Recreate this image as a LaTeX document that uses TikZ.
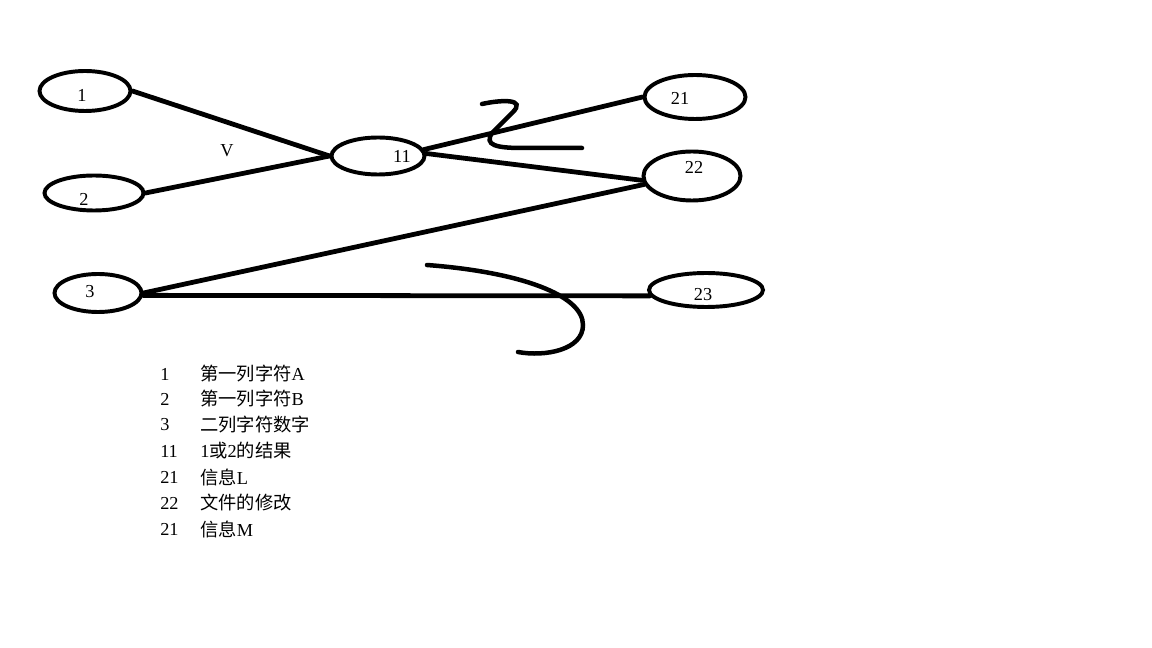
\documentclass[tikz,border=0pt]{standalone}
\usepackage{fontspec}
\setmainfont{Liberation Serif}
\newfontfamily\cjk{Noto Sans CJK SC}
\usepackage{tikz}
\usetikzlibrary{shapes.geometric}

\begin{document}
\begin{tikzpicture}[
  x=0.025cm, y=-0.025cm,
  oval/.style={draw, ellipse, line width=2.8pt, inner sep=0pt},
  link/.style={line width=3.4pt, line cap=round},
  scrib/.style={line width=3.2pt, line cap=round},
  lbl/.style={font=\fontsize{13}{15}\selectfont, inner sep=0pt},
  legend/.style={font=\fontsize{13}{15}\selectfont, inner sep=0pt, anchor=west}
]
\useasboundingbox (0,0) rectangle (1152,648);
% ovals
\node[oval, minimum width={91*0.025cm}, minimum height={40*0.025cm}] (n1) at (85,91) {};
\node[oval, minimum width={99*0.025cm}, minimum height={35*0.025cm}] (n2) at (94,193) {};
\node[oval, minimum width={87*0.025cm}, minimum height={38*0.025cm}] (n3) at (98,293) {};
\node[oval, minimum width={93*0.025cm}, minimum height={37*0.025cm}] (n11) at (378,156) {};
\node[oval, minimum width={101*0.025cm}, minimum height={44*0.025cm}] (n21) at (695,97) {};
\node[oval, minimum width={97*0.025cm}, minimum height={49*0.025cm}] (n22) at (692,176) {};
\node[oval, minimum width={114*0.025cm}, minimum height={34*0.025cm}] (n23) at (706,290) {};
% numbers in the ovals
\node[lbl] (t1) at (82,95) {1};
\node[lbl] (t2) at (84,199) {2};
\node[lbl] (t3) at (90,292) {3};
\node[lbl] (t11) at (402,156) {11};
\node[lbl] (t21) at (680,98) {21};
\node[lbl] (t22) at (694,167) {22};
\node[lbl] (t23) at (703,295) {23};
\node[lbl] (v) at (227,151) {V};
% connectors
\draw[link] (n1.east) -- (n11.west);
\draw[link] (n2.east) -- (n11.west);
\draw[link] (n11.8) -- (n21.west);
\draw[link] (n11.3) -- (n22.185);
\draw[link] (n22.190) -- (n3.east);
\draw[link] (n3.-3) -- (n23.186);
% scribbles
\draw[scrib] (482,104) .. controls (500,100) and (528,98) .. (512,113)
  -- (492,133) .. controls (484,145) and (496,148) .. (522,148) -- (582,148);
\draw[scrib] (427,265) .. controls (520,272) and (583,295) .. (583,325)
  .. controls (583,350) and (545,357) .. (518,352);
% legend
\node[legend] (k1) at (160,374) {1};
\node[legend] (k2) at (160,399) {2};
\node[legend] (k3) at (160,425) {3};
\node[legend] (k11) at (160,451) {11};
\node[legend] (k21) at (160,477) {21};
\node[legend] (k22) at (160,503) {22};
\node[legend] (k21b) at (160,529) {21};
\node[legend] (d1) at (200,374) {{\cjk 第一列字符}A};
\node[legend] (d2) at (200,399) {{\cjk 第一列字符}B};
\node[legend] (d3) at (200,425) {{\cjk 二列字符数字}};
\node[legend] (d11) at (200,451) {1{\cjk 或}2{\cjk 的结果}};
\node[legend] (d21) at (200,477) {{\cjk 信息}L};
\node[legend] (d22) at (200,503) {{\cjk 文件的修改}};
\node[legend] (d21b) at (200,529) {{\cjk 信息}M};
\end{tikzpicture}
\end{document}
